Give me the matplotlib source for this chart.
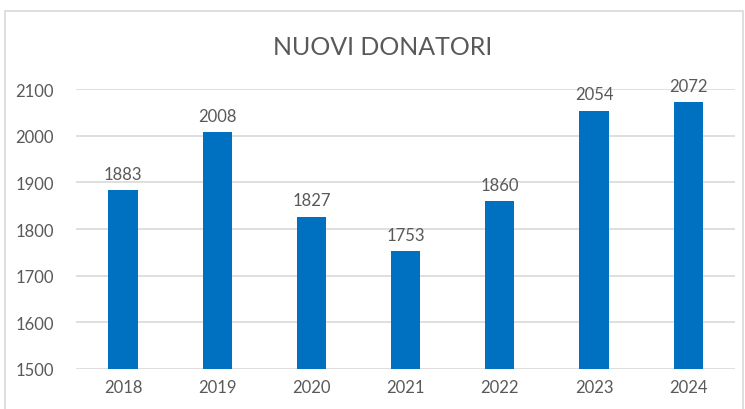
import matplotlib.pyplot as plt
from matplotlib.patches import Rectangle

years = ["2018", "2019", "2020", "2021", "2022", "2023", "2024"]
donors = [1883, 2008, 1827, 1753, 1860, 2054, 2072]

plt.rcParams['font.family'] = ['Lato', 'DejaVu Sans']
grey = "#595959"

fig = plt.figure(figsize=(7.45, 4.1), dpi=100)
ax = fig.add_axes([0.102, 0.0976, 0.885, 0.6824])

x = range(len(years))
bars = ax.bar(x, donors, width=0.31, color="#0070C0", zorder=3)
ax.set_xlim(-0.5, len(years) - 0.5)
ax.set_ylim(1500, 2100)
ax.set_yticks(range(1500, 2101, 100))
ax.set_xticks(list(x))
ax.set_xticklabels(years)

ax.yaxis.grid(True, color="#d9d9d9", linewidth=1.2, zorder=0)
ax.set_axisbelow(True)
for s in ax.spines.values():
    s.set_visible(False)
ax.tick_params(length=0, labelsize=12, labelcolor=grey)
ax.tick_params(axis="y", pad=16)
ax.tick_params(axis="x", pad=7)

for rect, v in zip(bars, donors):
    ax.annotate(str(v), (rect.get_x() + rect.get_width() / 2, v),
                xytext=(0, 6), textcoords="offset points",
                ha="center", va="bottom", fontsize=12, color=grey)

fig.text(0.513, 0.885, "NUOVI DONATORI", ha="center", va="center",
         fontsize=18, color=grey)

# chart border
fig.patches.append(Rectangle((5 / 745, -0.1), 0.99, 1.1 - 12 / 410,
                             transform=fig.transFigure, fill=False,
                             edgecolor="#d9d9d9", linewidth=1.2))

plt.savefig("out.png")
